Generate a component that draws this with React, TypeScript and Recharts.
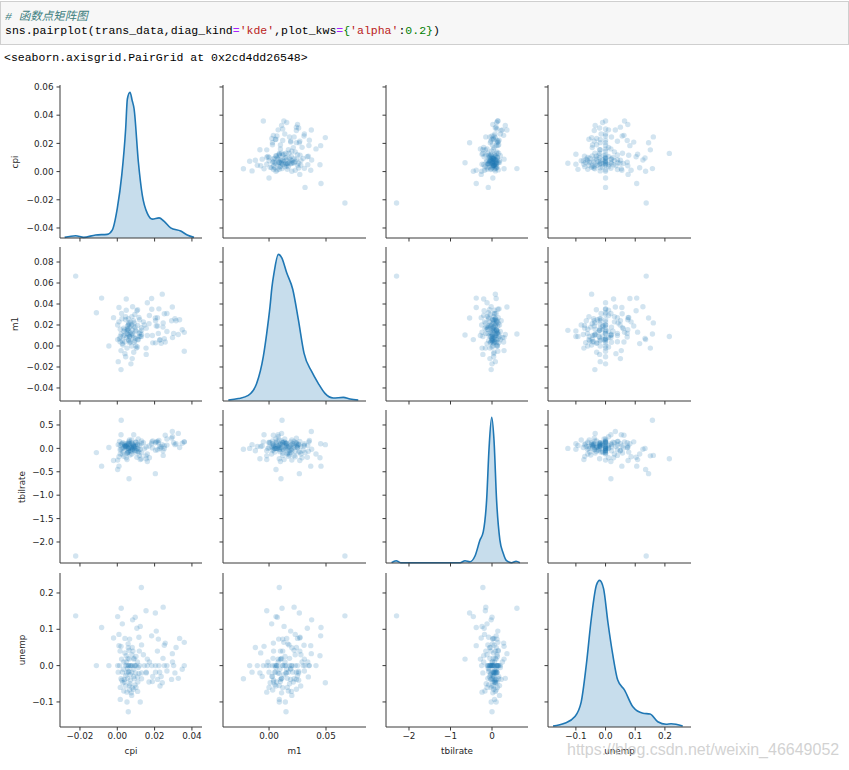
import { Area, ComposedChart, Scatter, XAxis, YAxis } from 'recharts'

// observations (log-differenced macro series), one entry per quarter
const cpi = [
  0.0129, -0.0223, 0.0021, 0.0002, -0.0084, 0.0027, 0.0082, 0.0096, 0.0154, 0.0204,
  0.0246, 0.0105, 0.0123, -0.002, 0.0009, 0.0041, 0.0066, 0.0116, 0.0184, 0.0209,
  0.022, 0.0257, 0.0252, 0.0334, 0.0359, 0.0009, 0.002, 0.0059, 0.0084, 0.013,
  0.0041, 0.0063, 0.0023, 0.0088, 0.0161, 0.0245, 0.0295, 0.0048, 0.0063, -0.0112,
  -0.0045, 0.0002, 0.0045, 0.0063, 0.008, 0.0102, 0.012, 0.0161, 0.0205, 0.0223,
  0.0252, 0.0266, 0.0302, 0.0359, 0.0052, 0.0095, 0.0005, 0.0027, 0.0059, 0.0077,
  0.0098, 0.0116, 0.0155, 0.0205, 0.0227, 0.0309, 0.002, 0.0038, 0.0055, 0.007,
  0.0091, 0.0109, 0.013, 0.017, 0.0188, 0.0216, 0.0241, 0.0291, 0.0327, 0.0016,
  0.0045, 0.0066, 0.008, 0.0109, 0.0229, 0.0052, 0.0016, 0.0052, 0.0123, 0.0059,
  0.0077, 0.003, 0.0095, 0.0155, 0.005, 0.007, 0.0085, 0.006, 0.0072, 0.009,
  0.0035, 0.011, 0.0068, 0.0045, 0.01, 0.0078, 0.0032, 0.0058, 0.0118, 0.0088,
  0.004, 0.0062, 0.0094, 0.0075, 0.0012, 0.0108, 0.0055, 0.013, 0.0025, 0.008,
  0.0065, 0.01, 0.0145, 0.0048, 0.0073, 0.0015, 0.0087, 0.0112, 0.0035, 0.0057,
  0.019, 0.0172, 0.014, 0.0185, 0.0266, 0.0215, 0.0296, 0.0235, 0.0315, 0.0348,
]
const m1 = [
  0.009, 0.0666, 0.0114, 0.0061, 0.0456, 0.0023, 0.0374, 0.0073, -0.002, 0.0266,
  0.022, 0.0336, 0.0132, 0.027, 0.023, 0.0155, 0.0085, 0.0272, 0.0453, 0.019,
  0.012, 0.0038, 0.0307, 0.025, 0.013, 0.0366, -0.0044, 0.02, 0.01, 0.0175,
  -0.0073, 0.0105, 0.031, 0.008, 0.01, 0.018, 0.0371, 0.0447, 0.022, 0.0316,
  0.0, 0.02, -0.0103, 0.005, 0.015, -0.002, 0.025, 0.0412, 0.003, 0.0354,
  0.0069, 0.0138, 0.012, -0.005, 0.012, 0.018, -0.0149, 0.005, 0.026, 0.0,
  0.015, 0.009, 0.017, 0.024, 0.0056, 0.026, -0.0225, 0.01, 0.016, 0.004,
  0.022, 0.0345, 0.011, 0.0213, 0.01, 0.019, 0.0494, 0.024, 0.011, 0.016,
  0.0278, 0.0032, 0.012, 0.0196, 0.006, -0.002, 0.009, 0.0143, 0.009, 0.0149,
  0.02, 0.001, 0.005, -0.008, 0.008, 0.013, 0.019, 0.006, 0.023, 0.0035,
  0.014, 0.0065, 0.018, 0.025, 0.0, 0.028, 0.0095, 0.0165, 0.012, -0.006,
  0.004, 0.021, 0.03, 0.011, 0.007, -0.001, 0.019, 0.015, 0.026, -0.012,
  0.009, 0.014, 0.02, 0.034, -0.017, 0.004, 0.024, 0.006, 0.017, 0.011,
  0.003, 0.029, 0.023, 0.035, 0.031, 0.027, 0.008, 0.0025, 0.024, 0.0155,
]
const tbilrate = [
  -0.22, -2.3, 0.6, -0.45, -0.38, -0.12, -0.02, 0.0, -0.16, -0.54,
  -0.15, -0.19, -0.24, -0.26, -0.18, 0.05, 0.02, -0.08, 0.1, 0.14,
  0.12, 0.28, 0.05, 0.02, 0.14, -0.38, 0.29, -0.05, 0.08, -0.1,
  0.04, -0.65, 0.1, 0.29, -0.28, -0.05, 0.36, -0.2, 0.15, -0.09,
  0.02, -0.25, 0.04, 0.0, 0.1, -0.05, 0.06, -0.12, -0.04, 0.17,
  0.0, 0.2, 0.12, 0.14, -0.1, 0.03, 0.08, 0.0, -0.08, 0.12,
  0.05, -0.03, 0.03, 0.12, 0.04, 0.08, -0.02, 0.1, -0.1, 0.06,
  0.02, -0.06, 0.16, 0.05, 0.01, -0.03, 0.08, 0.22, 0.32, -0.12,
  0.04, 0.1, -0.02, 0.08, 0.0, -0.24, 0.06, 0.1, -0.02, 0.0,
  0.18, 0.12, -0.08, -0.22, 0.05, -0.04, 0.07, 0.12, -0.06, 0.03,
  0.01, 0.09, -0.14, 0.02, 0.13, -0.12, -0.07, 0.01, -0.15, 0.05,
  0.07, 0.1, -0.04, 0.02, 0.15, 0.0, -0.09, 0.11, 0.09, -0.05,
  0.18, 0.13, -0.01, 0.06, 0.0, -0.03, 0.04, 0.2, -0.17, 0.08,
  0.16, -0.2, 0.12, 0.14, 0.07, 0.15, 0.25, 0.03, 0.1, 0.11,
]
const unemp = [
  0.215, 0.137, 0.158, 0.135, 0.105, 0.115, 0.126, 0.133, 0.151, 0.145,
  0.161, 0.103, 0.108, 0.076, 0.086, 0.075, 0.073, 0.078, 0.082, 0.095,
  0.073, 0.062, 0.056, 0.075, 0.064, 0.055, 0.053, 0.049, 0.04, 0.057,
  0.035, 0.018, 0.018, 0.018, 0.018, 0.02, 0.033, 0.027, 0.042, 0.0,
  0.0, 0.0, 0.0, 0.0, 0.0, 0.0, 0.0, 0.0, 0.0, 0.0,
  0.0, 0.0, 0.0, 0.0, 0.0, 0.0, -0.018, -0.018, -0.016, -0.018,
  -0.02, -0.022, -0.018, -0.018, -0.018, -0.02, -0.036, -0.038, -0.035, -0.04,
  -0.036, -0.031, -0.036, -0.045, -0.044, -0.038, -0.047, -0.038, -0.035, -0.06,
  -0.056, -0.067, -0.061, -0.071, -0.056, -0.073, -0.093, -0.1, -0.1, -0.127,
  -0.082, -0.047, -0.053, -0.02, -0.02, -0.025, -0.01, 0.0, 0.0, 0.02,
  0.01, -0.045, -0.05, -0.028, -0.06, 0.03, -0.01, 0.06, 0.04, -0.03,
  -0.045, -0.018, 0.0, -0.075, 0.0, 0.01, -0.008, -0.02, -0.04, 0.05,
  -0.055, 0.025, 0.0, 0.01, 0.0, 0.04, -0.065, -0.005, -0.07, 0.02,
  -0.03, 0.01, 0.03, 0.0, -0.015, 0.04, 0.01, -0.03, 0.05, -0.01,
]

// kernel density curves on the diagonal (grid point, density)
const cpiKdeX = [-0.0282, -0.0223, -0.018, -0.0116, -0.0054, -0.0027, 0.0, 0.0024, 0.0045, 0.0054, 0.0068, 0.008, 0.009, 0.0113, 0.0134, 0.0161, 0.0188, 0.0224, 0.025, 0.0286, 0.034, 0.0375, 0.0411]
const cpiKdeY = [0.3, 1.1, 0.3, 1.5, 1.8, 3.9, 14.6, 30.9, 53.9, 68.4, 71.7, 67.6, 63.6, 37.4, 21.1, 12.1, 9.3, 9.9, 8.3, 5.0, 3.4, 1.5, 0.3]
const m1KdeX = [-0.0357, -0.0269, -0.0182, -0.0108, -0.005, -0.002, 0.0009, 0.0025, 0.0044, 0.0082, 0.0111, 0.0155, 0.0208, 0.0257, 0.0307, 0.0375, 0.0432, 0.0491, 0.0564, 0.0652, 0.0711, 0.0783]
const m1KdeY = [0.25, 0.6, 1.4, 4.4, 11.1, 16.9, 23.6, 28.2, 31.9, 36.5, 35.7, 31.9, 27.8, 20.3, 11.9, 7.3, 4.4, 1.9, 0.75, 0.9, 0.5, 0.25]
const tbKdeX = [-2.42, -2.31, -2.2, -1.5, -0.77, -0.65, -0.53, -0.41, -0.29, -0.21, -0.13, -0.07, -0.008, 0.048, 0.11, 0.19, 0.27, 0.35, 0.47, 0.58, 0.67]
const tbKdeY = [0.015, 0.115, 0.015, 0.015, 0.015, 0.115, 0.065, 0.35, 1.15, 1.57, 3.15, 5.8, 7.3, 6.15, 3.15, 1.15, 0.49, 0.115, 0.015, 0.085, 0.015]
const unempKdeX = [-0.177, -0.138, -0.104, -0.082, -0.065, -0.048, -0.031, -0.02, -0.0067, 0.0078, 0.0246, 0.041, 0.064, 0.092, 0.126, 0.15, 0.176, 0.204, 0.221, 0.26]
const unempKdeY = [0.08, 0.3, 0.82, 2.02, 4.96, 8.7, 11.36, 11.76, 11.1, 8.42, 5.76, 3.76, 2.96, 1.62, 1.1, 1.04, 0.42, 0.22, 0.26, 0.08]

// ticks
const cpiXTicks = [-0.02, 0, 0.02, 0.04]
const cpiYTicks = [-0.04, -0.02, 0, 0.02, 0.04, 0.06]
const m1XTicks = [0, 0.05]
const m1YTicks = [-0.04, -0.02, 0, 0.02, 0.04, 0.06, 0.08]
const tbXTicks = [-2, -1, 0]
const tbYTicks = [-2, -1.5, -1, -0.5, 0, 0.5]
const unempXTicks = [-0.1, 0, 0.1, 0.2]
const unempYTicks = [-0.1, 0, 0.1, 0.2]

const VARS = [
  { name: 'cpi', values: cpi, xDomain: [-0.0307, 0.0454], yDomain: [-0.0471, 0.0614], xTicks: cpiXTicks, yTicks: cpiYTicks, xDec: 2, yDec: 2, kdeX: cpiKdeX, kdeY: cpiKdeY, labelX: 15 },
  { name: 'm1', values: m1, xDomain: [-0.0404, 0.0851], yDomain: [-0.0524, 0.0943], xTicks: m1XTicks, yTicks: m1YTicks, xDec: 2, yDec: 2, kdeX: m1KdeX, kdeY: m1KdeY, labelX: 15 },
  { name: 'tbilrate', values: tbilrate, xDomain: [-2.554, 0.867], yDomain: [-2.449, 0.82], xTicks: tbXTicks, yTicks: tbYTicks, xDec: 0, yDec: 1, kdeX: tbKdeX, kdeY: tbKdeY, labelX: 21.5 },
  { name: 'unemp', values: unemp, xDomain: [-0.194, 0.288], yDomain: [-0.169, 0.255], xTicks: unempXTicks, yTicks: unempYTicks, xDec: 1, yDec: 1, kdeX: unempKdeX, kdeY: unempKdeY, labelX: 21.5 },
]

const COLS = [[60, 202], [223, 366], [386, 528], [548, 691]]
const ROWS = [[85, 238], [247, 401], [410, 563], [573, 727]]

const YW = 45
const XH = 22
const PT = 4
const PR = 4
const AX = '#3a3a3a'
const TXT = '#262626'
const FONT = "'DejaVu Sans', sans-serif"
const FS = 8.8
const BLUE = '#1f77b4'
const MONO = "'Liberation Mono', 'Noto Sans CJK SC', monospace"

const fmt = (v: number, d: number) => (v < 0 ? '\u2212' : '') + Math.abs(v).toFixed(d)

function Panel({ r, c }: { r: number; c: number }) {
  const rowV = VARS[r]
  const colV = VARS[c]
  const [l, rt] = COLS[c]
  const [t, b] = ROWS[r]
  const width = rt - l + YW + PR
  const height = b - t + PT + XH
  const showX = r === 3
  const showY = c === 0
  const tickStyle = { fill: TXT, fontSize: FS, fontFamily: FONT }

  const xAxis = (
    <XAxis
      type="number"
      dataKey="x"
      domain={colV.xDomain}
      ticks={colV.xTicks}
      interval={0}
      allowDataOverflow
      height={XH}
      tickSize={3.5}
      tickMargin={2}
      axisLine={{ stroke: AX }}
      tickLine={{ stroke: AX }}
      tick={tickStyle}
      tickFormatter={(v: number) => (showX ? fmt(v, colV.xDec) : '')}
    />
  )
  const yAxis = (
    <YAxis
      yAxisId="main"
      orientation="left"
      type="number"
      dataKey="y"
      domain={rowV.yDomain}
      ticks={rowV.yTicks}
      interval={0}
      allowDataOverflow
      width={YW}
      tickSize={3.5}
      tickMargin={3}
      axisLine={{ stroke: AX }}
      tickLine={{ stroke: AX }}
      tick={tickStyle}
      tickFormatter={(v: number) => (showY ? fmt(v, rowV.yDec) : '')}
    />
  )

  let chart
  if (r === c) {
    const kde = colV.kdeX.map((x, i) => ({ x, d: colV.kdeY[i] }))
    chart = (
      <ComposedChart width={width} height={height} data={kde} margin={{ top: PT, right: PR, bottom: 0, left: 0 }}>
        {xAxis}
        {yAxis}
        <YAxis yAxisId="kde" orientation="right" type="number" hide width={0} domain={[0, (max: number) => max * 1.05]} />
        <Area
          yAxisId="kde"
          type="monotone"
          dataKey="d"
          stroke={BLUE}
          strokeWidth={1.6}
          fill={BLUE}
          fillOpacity={0.25}
          dot={false}
          activeDot={false}
          isAnimationActive={false}
        />
      </ComposedChart>
    )
  } else {
    const pts = colV.values.map((x, i) => ({ x, y: rowV.values[i] }))
    chart = (
      <ComposedChart width={width} height={height} margin={{ top: PT, right: PR, bottom: 0, left: 0 }}>
        {xAxis}
        {yAxis}
        <Scatter
          yAxisId="main"
          data={pts}
          isAnimationActive={false}
          shape={(p: any) => <circle cx={p.cx} cy={p.cy} r={2.7} fill={BLUE} fillOpacity={0.2} />}
        />
      </ComposedChart>
    )
  }

  return (
    <div style={{ position: 'absolute', left: l - YW, top: t - PT, width, height }}>
      {chart}
    </div>
  )
}

export default function App() {
  const cells = []
  for (let r = 0; r < 4; r++) for (let c = 0; c < 4; c++) cells.push(<Panel key={`${r}-${c}`} r={r} c={c} />)
  return (
    <div style={{ position: 'absolute', left: 0, top: 0, width: 849, height: 770, background: '#fff', overflow: 'hidden' }}>
      <div
        style={{
          position: 'absolute',
          left: 0,
          top: 1,
          width: 847,
          height: 42,
          background: '#f7f7f7',
          border: '1px solid #cfcfcf',
          fontFamily: MONO,
          fontSize: 11.5,
          color: '#000',
        }}
      >
        <div style={{ position: 'absolute', left: 4, top: 5, fontStyle: 'italic', color: '#408080', whiteSpace: 'pre' }}># 函数点矩阵图</div>
        <div style={{ position: 'absolute', left: 4, top: 22, whiteSpace: 'pre' }}>
          sns.pairplot(trans_data,diag_kind<span style={{ color: '#aa22ff' }}>=</span>
          <span style={{ color: '#ba2121' }}>'kde'</span>,plot_kws<span style={{ color: '#aa22ff' }}>=</span>
          <span style={{ color: '#008000' }}>{'{'}</span>
          <span style={{ color: '#ba2121' }}>'alpha'</span>:<span style={{ color: '#008000' }}>0.2</span>
          <span style={{ color: '#008000' }}>{'}'}</span>)
        </div>
      </div>
      <div style={{ position: 'absolute', left: 4, top: 51, fontFamily: MONO, fontSize: 11.5, whiteSpace: 'pre' }}>
        {'<seaborn.axisgrid.PairGrid at 0x2cd4dd26548>'}
      </div>
      {cells}
      {VARS.map((v, i) => (
        <div
          key={`yl-${v.name}`}
          style={{
            position: 'absolute',
            left: v.labelX,
            top: (ROWS[i][0] + ROWS[i][1]) / 2,
            transform: 'translate(-50%, -50%) rotate(-90deg)',
            fontFamily: FONT,
            fontSize: FS,
            color: TXT,
            whiteSpace: 'nowrap',
          }}
        >
          {v.name}
        </div>
      ))}
      {VARS.map((v, i) => (
        <div
          key={`xl-${v.name}`}
          style={{
            position: 'absolute',
            left: (COLS[i][0] + COLS[i][1]) / 2,
            top: 751,
            transform: 'translate(-50%, -50%)',
            fontFamily: FONT,
            fontSize: FS,
            color: TXT,
            whiteSpace: 'nowrap',
          }}
        >
          {v.name}
        </div>
      ))}
      <div
        style={{
          position: 'absolute',
          left: 567,
          top: 741,
          fontFamily: "'Liberation Sans', Arial, sans-serif",
          fontSize: 16,
          color: 'rgba(195,195,195,0.75)',
          whiteSpace: 'nowrap',
        }}
      >
        https://blog.csdn.net/weixin_46649052
      </div>
    </div>
  )
}
